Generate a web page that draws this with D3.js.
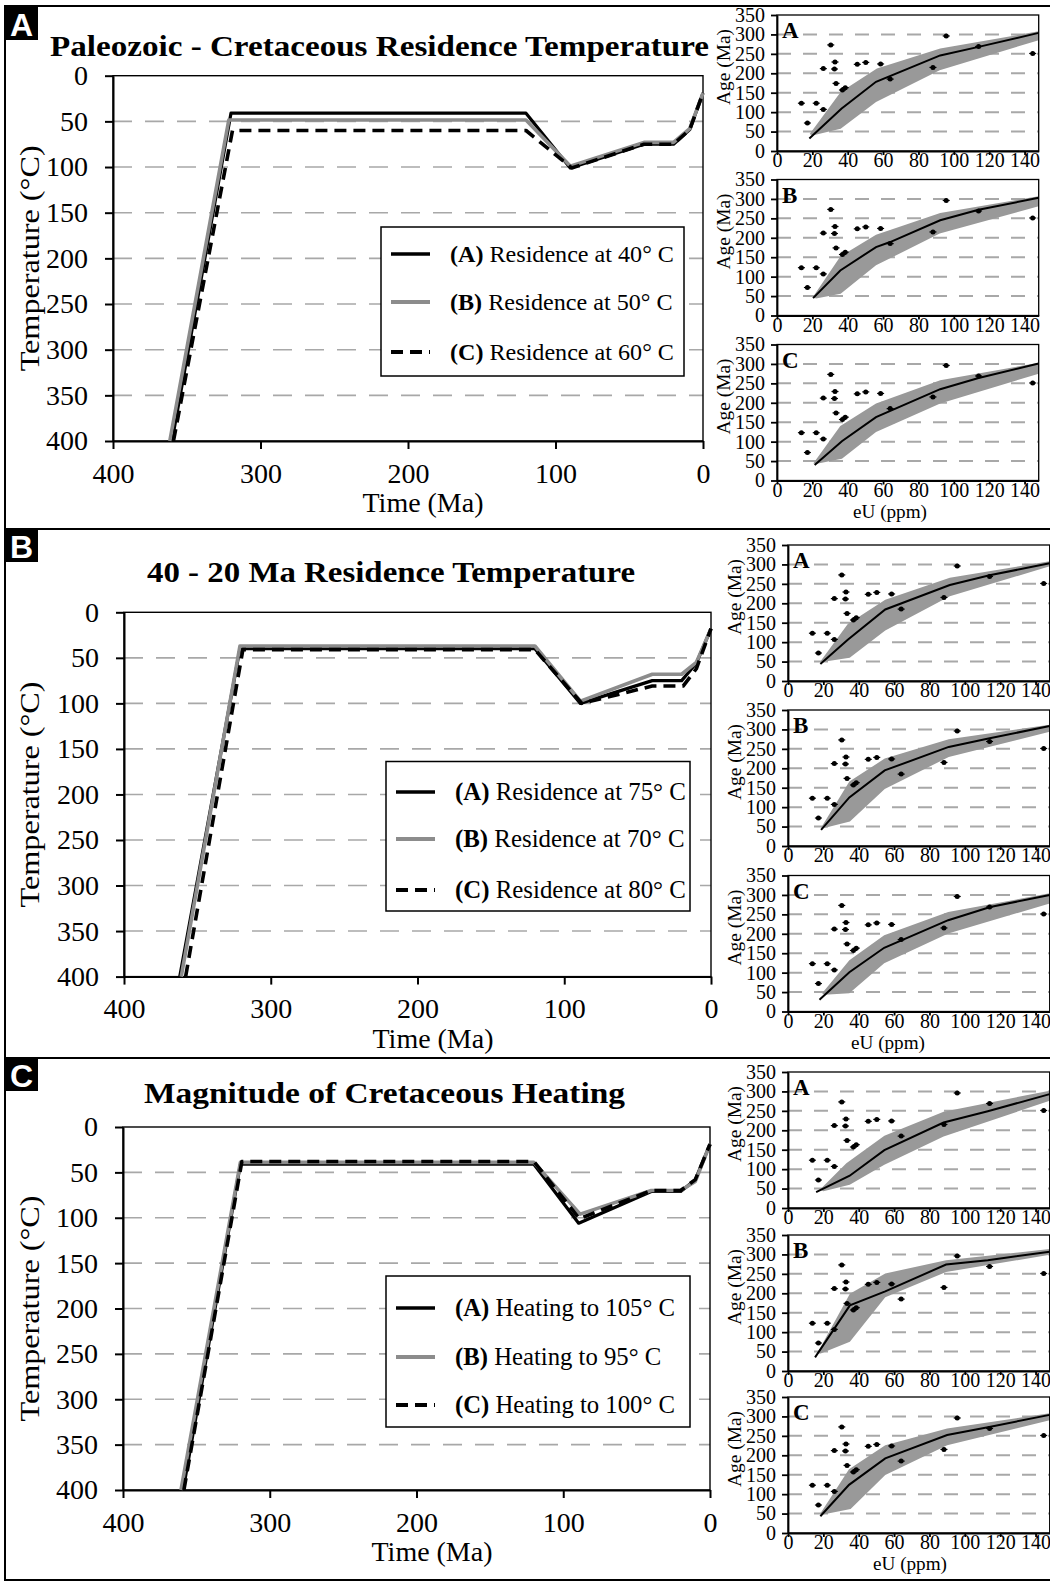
<!DOCTYPE html>
<html><head><meta charset="utf-8">
<script src="https://cdn.jsdelivr.net/npm/d3@7"></script>
<style>
body{margin:0;background:#fff;}
svg{display:block;}
</style></head>
<body><svg id="fig" width="1050" height="1582"></svg>
<script>
// ---------------- DATA ----------------
const timeTicks = [400, 300, 200, 100, 0];
const tempTicks = [0, 50, 100, 150, 200, 250, 300, 350, 400];
const tempGrid = [50, 100, 150, 200, 250, 300, 350];
const ageTicks = [0, 50, 100, 150, 200, 250, 300, 350];
const ageGrid = [50, 100, 150, 200, 250, 300];
const euTicks = [0, 20, 40, 60, 80, 100, 120, 140];

const panelLetters = ["A", "B", "C"];
const panelTitles = ["Paleozoic - Cretaceous Residence Temperature", "40 - 20 Ma Residence Temperature", "Magnitude of Cretaceous Heating"];
const seriesKeys = ["(A)", "(B)", "(C)"];
const legendLabelsA = ["Residence at 40° C", "Residence at 50° C", "Residence at 60° C"];
const legendLabelsB = ["Residence at 75° C", "Residence at 70° C", "Residence at 80° C"];
const legendLabelsC = ["Heating to 105° C", "Heating to 95° C", "Heating to 100° C"];

// time (Ma), temperature (°C)
const pathA40 = [[360,400],[320,41],[120,41],[90,101],[40,75],[20,75],[9,59],[0,19]];
const pathA50 = [[361.5,400],[321.5,48.5],[120,48.5],[90,99],[40,73],[20,73],[9,58],[0,19]];
const pathA60 = [[359,400],[319,60],[120,60],[89,101],[40,75],[20,75],[9,59],[0,19]];
const pathB75 = [[362,400],[321,40],[120,40],[89,100],[40,75],[20,75],[10,56],[0,18]];
const pathB70 = [[361,400],[321,37],[120,37],[89,97.5],[40,68],[20,68],[10,55],[0,18]];
const pathB80 = [[358,400],[319,41],[120,41],[88,100],[40,81],[19,81],[10,62],[0,18]];
const pathC105 = [[359,400],[320,41],[120,41],[89.5,106],[40,71],[20,71],[10,58],[0,19]];
const pathC95 = [[360.5,400],[320,39],[120,39],[88.5,96],[40,70],[20,70],[10,60],[0,19]];
const pathC100 = [[358.5,400],[319,38],[120,38],[89,101],[40,70],[20,70],[10,58],[0,19]];

// observed grain ages: eU (ppm), age (Ma)
const obsEU = [13.8,17.2,22.2,26.2,26.2,30.4,32.8,32.5,33.4,37,38.6,45.4,50.2,58.6,64,88.2,95.7,114,144.6];
const obsAge = [123,72,123,107,212,273,229,211,174,157,163,223,228,224,185,215,296,269,251];

// modelled age-eU curves: mean line, band upper & lower edges
const modelAA = {line:[[18.3,32],[36.4,109],[56,178],[92.3,246],[114,268],[148,304]],
  upper:[[18.5,44],[36,152],[56.5,212],[92.3,264],[148,308]],
  lower:[[20,40],[36,57],[56,126],[92,208],[148,285]]};
const modelAB = {line:[[20.4,44.7],[35.8,116],[56,176],[64,189],[92.3,245],[114,272],[148,303]],
  upper:[[20.4,48],[35.8,152],[56,208],[92.3,264],[148,307]],
  lower:[[22,44],[36,56],[56,129],[92,211],[148,281]]};
const modelAC = {line:[[21.3,40],[36.7,101],[56,163],[92.3,235],[114,264],[148,301]],
  upper:[[20.5,44],[35.8,140],[56,198],[92.3,258],[148,303]],
  lower:[[22.5,43],[36.7,56],[56,125],[92.3,198],[148,275]]};
const modelBA = {line:[[18.3,43.5],[33.8,106],[55,184],[91.5,247],[114,272],[148,303]],
  upper:[[18.3,50],[33.8,147],[55,209],[91.5,266],[148,308]],
  lower:[[21,50],[34.9,60],[55,130],[91.5,218],[148,295]]};
const modelBB = {line:[[18.7,41.5],[34.7,125],[54.7,194.5],[90.9,255],[113.4,276.6],[148,309]],
  upper:[[18.7,47],[34.7,166],[54.7,225],[90.9,275],[148,312]],
  lower:[[21,47],[35,63],[54.7,147],[90.9,229],[148,294]]};
const modelBC = {line:[[17.8,30],[34.7,101],[54.4,164],[90.6,235],[114.4,269],[148,300]],
  upper:[[19.3,47],[34.7,132],[54.4,196],[90.6,256],[148,304]],
  lower:[[20.6,43],[34.7,47],[54.4,124],[90.6,201],[148,278]]};
const modelCA = {line:[[15.9,41],[34.9,83],[54.5,149],[88,220],[113,249],[148,293]],
  upper:[[18,47],[33,115],[54.5,186],[88,248],[148,302]],
  lower:[[20,43],[34.9,60],[54.5,111],[88,184],[148,276]]};
const modelCB = {line:[[15.3,35],[35,169],[55,205],[89.4,274],[113,285],[148,307]],
  upper:[[16.5,45],[35,199],[55,251],[89.4,285],[148,314]],
  lower:[[18.5,45],[35,75],[55,190],[89.4,255],[148,299]]};
const modelCC = {line:[[18.3,43],[34.5,124],[55,192],[90,252],[113.8,273],[148,304]],
  upper:[[18.3,50],[34.5,164],[55,226],[90,269],[148,308]],
  lower:[[20.5,48],[35.4,61.5],[55,149],[90,226],[148,290]]};

// ---------------- DRAWING ----------------
const SERIF = "'Liberation Serif','Times New Roman',serif";
const SANS = "'Liberation Sans',Arial,sans-serif";
const svg = d3.select('#fig');

function fitWidth(sel, target){
  const w = sel.node().getComputedTextLength();
  const fs = parseFloat(sel.attr('font-size'));
  const nf = fs * target / w;
  sel.attr('font-size', nf);
  return nf;
}

// Figure frame & panel dividers
const frame = svg.append('g').attr('stroke','#000').attr('stroke-width',2);
[6, 529, 1058, 1580].forEach(yv => frame.append('line').attr('x1',4).attr('x2',1050).attr('y1',yv).attr('y2',yv));
frame.append('line').attr('x1',5).attr('x2',5).attr('y1',6).attr('y2',1580);

const seriesStyle = [
  {color:'#000', dash:null, w:3.2},
  {color:'#8c8c8c', dash:null, w:3.6},
  {color:'#000', dash:'12,7', w:3.6}
];

function mainChart(p){
  const g = svg.append('g');
  // badge
  g.append('rect').attr('x',5).attr('y',p.badgeY).attr('width',33).attr('height',33).attr('fill','#000');
  g.append('text').attr('x',21.5).attr('y',p.badgeY+29).attr('text-anchor','middle')
    .attr('font-family',SANS).attr('font-weight','bold').attr('font-size',32).attr('fill','#fff').text(p.letter);
  // title
  g.append('text').attr('x',p.titleX0).attr('y',p.titleY).attr('font-family',SERIF)
    .attr('font-weight','bold').attr('font-size',30).attr('fill','#000')
    .attr('textLength', p.titleX1 - p.titleX0).attr('lengthAdjust','spacingAndGlyphs').text(p.title);

  const x = d3.scaleLinear().domain([400,0]).range([p.L, p.R]);
  const y = d3.scaleLinear().domain([0,400]).range([p.T, p.B]);

  g.append('g').selectAll('line').data(tempGrid).join('line')
    .attr('x1',p.L).attr('x2',p.R).attr('y1',d=>y(d)).attr('y2',d=>y(d))
    .attr('stroke','#a8a8a8').attr('stroke-width',1.6).attr('stroke-dasharray','19,13');
  g.append('rect').attr('x',p.L).attr('y',p.T).attr('width',p.R-p.L).attr('height',p.B-p.T)
    .attr('fill','none').attr('stroke','#000').attr('stroke-width',1.4);

  const ya = g.append('g').attr('transform',`translate(${p.L},0)`)
    .call(d3.axisLeft(y).tickValues(tempTicks).tickSize(8).tickSizeOuter(0).tickPadding(17));
  const xa = g.append('g').attr('transform',`translate(0,${p.B})`)
    .call(d3.axisBottom(x).tickValues(timeTicks).tickSize(8).tickSizeOuter(0).tickPadding(14));
  [ya, xa].forEach(a => {
    a.attr('font-size',28).attr('font-family',SERIF);
    a.selectAll('text').attr('fill','#000');
    a.selectAll('line,path').attr('stroke','#000').attr('stroke-width',2);
  });

  // axis titles
  const xt = g.append('text').attr('x',p.xTitleX).attr('y',p.B+71).attr('text-anchor','middle')
    .attr('font-family',SERIF).attr('font-size',28).text('Time (Ma)');
  fitWidth(xt, 121);
  g.append('text').attr('transform',`translate(${p.yTitleX},${(p.T+p.B)/2}) rotate(-90)`)
    .attr('text-anchor','middle').attr('dy','0.35em').attr('font-family',SERIF).attr('font-size',28)
    .attr('textLength',226).attr('lengthAdjust','spacingAndGlyphs').text('Temperature (°C)');

  // series
  const line = d3.line().x(d=>x(d[0])).y(d=>y(d[1]));
  p.series.forEach((s,i) => {
    const st = seriesStyle[i];
    g.append('path').attr('d',line(s)).attr('fill','none').attr('stroke',st.color)
      .attr('stroke-width',st.w).attr('stroke-linejoin','round')
      .attr('stroke-dasharray',st.dash);
  });

  // legend
  const lg = p.legend;
  g.append('rect').attr('x',lg.x0).attr('y',lg.y0).attr('width',lg.x1-lg.x0).attr('height',lg.y1-lg.y0)
    .attr('fill','#fff').attr('stroke','#000').attr('stroke-width',1.5);
  let fs = 24;
  p.labels.forEach((lab,i) => {
    const st = seriesStyle[i];
    const ry = lg.y0 + lg.rows[i];
    g.append('line').attr('x1',lg.x0+10).attr('x2',lg.x0+49).attr('y1',ry).attr('y2',ry)
      .attr('stroke',st.color).attr('stroke-width',st.w+0.5).attr('stroke-dasharray',st.dash);
    const tx = g.append('text').attr('x',lg.x0+69).attr('y',ry).attr('dy','0.33em')
      .attr('font-family',SERIF).attr('font-size',fs);
    tx.append('tspan').attr('font-weight','bold').text(seriesKeys[i]);
    tx.append('tspan').text(' ' + lab);
    if(i===0){ fs = fitWidth(tx, lg.textW); }
  });
}

function smallChart(c){
  const g = svg.append('g');
  const H = 136, W = 261.7;
  const x = d3.scaleLinear().domain([0,148]).range([c.L, c.L+W]);
  const y = d3.scaleLinear().domain([0,350]).range([c.T+H, c.T]);
  g.append('g').selectAll('line').data(ageGrid).join('line')
    .attr('x1',c.L).attr('x2',c.L+W).attr('y1',d=>y(d)).attr('y2',d=>y(d))
    .attr('stroke','#a8a8a8').attr('stroke-width',2).attr('stroke-dasharray','14,12');
  const m = c.model;
  const poly = m.upper.concat(m.lower.slice().reverse());
  g.append('path').attr('d', d3.line().x(d=>x(d[0])).y(d=>y(d[1]))(poly) + 'Z')
    .attr('fill','#999').attr('stroke','none');
  g.append('path').attr('d', d3.line().x(d=>x(d[0])).y(d=>y(d[1]))(m.line))
    .attr('fill','none').attr('stroke','#000').attr('stroke-width',2);
  const pts = obsEU.map((e,i)=>[e, obsAge[i]]);
  g.append('g').selectAll('line').data(pts).join('line')
    .attr('x1',d=>x(d[0])-3.5).attr('x2',d=>x(d[0])+3.5).attr('y1',d=>y(d[1])).attr('y2',d=>y(d[1]))
    .attr('stroke','#000').attr('stroke-width',1.2);
  g.append('g').selectAll('circle').data(pts).join('circle')
    .attr('cx',d=>x(d[0])).attr('cy',d=>y(d[1])).attr('r',2.5).attr('fill','#000');
  g.append('rect').attr('x',c.L).attr('y',c.T).attr('width',W).attr('height',H)
    .attr('fill','none').attr('stroke','#000').attr('stroke-width',1.3);
  const ya = g.append('g').attr('transform',`translate(${c.L},0)`)
    .call(d3.axisLeft(y).tickValues(ageTicks).tickSize(6).tickSizeOuter(0).tickPadding(6));
  const xa = g.append('g').attr('transform',`translate(0,${c.T+H})`)
    .call(d3.axisBottom(x).tickValues(euTicks).tickSize(4).tickSizeOuter(0).tickPadding(-2));
  [ya, xa].forEach(a => {
    a.attr('font-size',20).attr('font-family',SERIF);
    a.selectAll('text').attr('fill','#000');
    a.selectAll('line,path').attr('stroke','#000').attr('stroke-width',1.8);
  });
  g.append('text').attr('x',c.L+5).attr('y',c.T+23).attr('font-family',SERIF).attr('font-weight','bold')
    .attr('font-size',23).text(c.letter);
  g.append('text').attr('transform',`translate(${c.L-54},${c.T+H/2-16}) rotate(-90)`)
    .attr('text-anchor','middle').attr('dy','0.35em').attr('font-family',SERIF).attr('font-size',19)
    .attr('textLength',76).attr('lengthAdjust','spacingAndGlyphs').text('Age (Ma)');
  if(c.euX){
    g.append('text').attr('x',c.euX).attr('y',c.T+H+37).attr('text-anchor','middle')
      .attr('font-family',SERIF).attr('font-size',19)
      .attr('textLength',74).attr('lengthAdjust','spacingAndGlyphs').text('eU (ppm)');
  }
}

mainChart({letter:panelLetters[0], badgeY:7, title:panelTitles[0], titleX0:50, titleX1:709, titleY:56,
  L:113, R:703, T:75.7, B:441, xTitleX:423, yTitleX:29,
  series:[pathA40, pathA50, pathA60], labels:legendLabelsA,
  legend:{x0:381, x1:684, y0:227, y1:376, rows:[27,75,125], textW:224}});
mainChart({letter:panelLetters[1], badgeY:529, title:panelTitles[1], titleX0:147, titleX1:635, titleY:582,
  L:124, R:711, T:612.3, B:976.6, xTitleX:433, yTitleX:29,
  series:[pathB75, pathB70, pathB80], labels:legendLabelsB,
  legend:{x0:386, x1:690, y0:761.5, y1:911, rows:[30.5,77.5,128.5], textW:231}});
mainChart({letter:panelLetters[2], badgeY:1058, title:panelTitles[2], titleX0:144, titleX1:625, titleY:1103,
  L:123, R:710, T:1127, B:1490, xTitleX:432, yTitleX:29,
  series:[pathC105, pathC95, pathC100], labels:legendLabelsC,
  legend:{x0:386, x1:690, y0:1276, y1:1427, rows:[32,81,129], textW:220}});

const smallTops = [[15,179.5,344.5],[545,710,875.5],[1072,1235,1397]];
const smallLefts = [777, 788, 788];
const smallModels = [[modelAA, modelAB, modelAC],[modelBA, modelBB, modelBC],[modelCA, modelCB, modelCC]];
const euXs = [890, 888, 910];
smallModels.forEach((row, pi) => row.forEach((mdl, ci) => {
  smallChart({L:smallLefts[pi], T:smallTops[pi][ci], model:mdl, letter:panelLetters[ci], euX: ci===2 ? euXs[pi] : null});
}));
</script></body></html>
